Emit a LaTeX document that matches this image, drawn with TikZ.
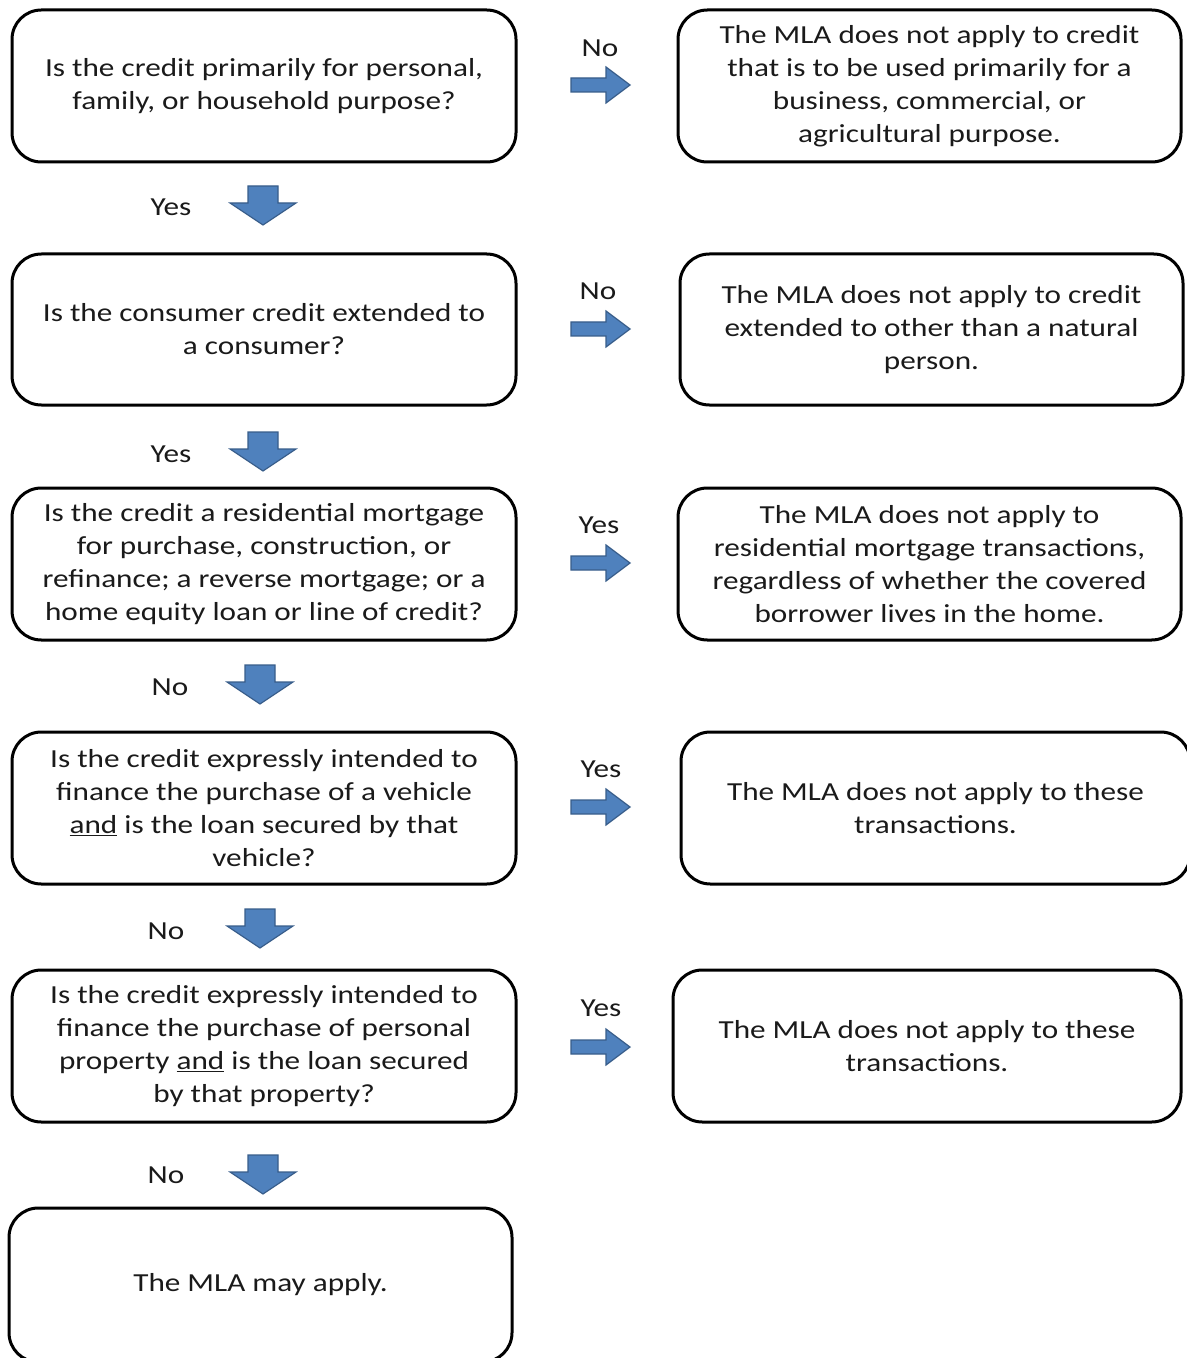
\documentclass[tikz,border=0pt]{standalone}
\usepackage{fontspec}
\setmainfont{Carlito}[FakeStretch=1.2]
\definecolor{arrowblue}{HTML}{4F81BD}
\definecolor{arrowedge}{HTML}{385D8A}
\definecolor{txt}{HTML}{1A1A1A}
\tikzset{
  box/.style={draw=black, line width=2.25pt, rounded corners=22pt, align=center,
    font=\fontsize{19.5}{24.75}\selectfont, text=txt, inner sep=0pt},
  lbl/.style={font=\fontsize{19.5}{24.75}\selectfont, text=txt, inner sep=0pt},
  barrow/.style={fill=arrowblue, draw=arrowedge, line width=0.9pt, line join=miter},
}
\newcommand\harrow[1]{\draw[barrow] ([shift={(0,-7)}]#1) -- ([shift={(35,-7)}]#1) -- ([shift={(35,-18)}]#1) -- ([shift={(59,0)}]#1) -- ([shift={(35,18)}]#1) -- ([shift={(35,7)}]#1) -- ([shift={(0,7)}]#1) -- cycle;}
\newcommand\varrow[1]{\draw[barrow] ([shift={(-15,0)}]#1) -- ([shift={(15,0)}]#1) -- ([shift={(15,17)}]#1) -- ([shift={(33,17)}]#1) -- ([shift={(0,39)}]#1) -- ([shift={(-33,17)}]#1) -- ([shift={(-15,17)}]#1) -- cycle;}
\begin{document}
\begin{tikzpicture}[x=0.75pt, y=-0.75pt]
\useasboundingbox (0,0) rectangle (1186,1358);
% left column
\node[box, minimum width=378pt, minimum height=114pt] (q1) at (264,86)
  {Is the credit primarily for personal,\\ family, or household purpose?};
\node[box, minimum width=378pt, minimum height=113.25pt] (q2) at (264,329.5)
  {Is the consumer credit extended to\\ a consumer?};
\node[box, minimum width=378pt, minimum height=114pt] (q3) at (264,564)
  {Is the credit a residential mortgage\\ for purchase, construction, or\\ refinance; a reverse mortgage; or a\\ home equity loan or line of credit?};
\node[box, minimum width=378pt, minimum height=114pt] (q4) at (264,808)
  {Is the credit expressly intended to\\ finance the purchase of a vehicle\\ \underline{and} is the loan secured by that\\ vehicle?};
\node[box, minimum width=378pt, minimum height=114pt] (q5) at (264,1046)
  {Is the credit expressly intended to\\ finance the purchase of personal\\ property \underline{and} is the loan secured\\ by that property?};
\node[box, minimum width=377.25pt, minimum height=115.5pt] (q6) at (260.5,1285)
  {The MLA may apply.};
% right column
\node[box, minimum width=377.25pt, minimum height=114pt] (r1) at (929.5,86)
  {The MLA does not apply to credit\\ that is to be used primarily for a\\ business, commercial, or\\ agricultural purpose.};
\node[box, minimum width=377.25pt, minimum height=113.25pt] (r2) at (931.5,329.5)
  {The MLA does not apply to credit\\ extended to other than a natural\\ person.};
\node[box, minimum width=377.25pt, minimum height=114pt] (r3) at (929.5,564)
  {The MLA does not apply to\\ residential mortgage transactions,\\ regardless of whether the covered\\ borrower lives in the home.};
\node[box, minimum width=381.75pt, minimum height=114pt] (r4) at (935.5,808)
  {The MLA does not apply to these\\ transactions.};
\node[box, minimum width=381pt, minimum height=114pt] (r5) at (927,1046)
  {The MLA does not apply to these\\ transactions.};
% horizontal arrows
\coordinate (h1) at (571,85);
\coordinate (h2) at (571,329);
\coordinate (h3) at (571,563);
\coordinate (h4) at (571,807);
\coordinate (h5) at (571,1047);
\harrow{h1} \harrow{h2} \harrow{h3} \harrow{h4} \harrow{h5}
\node[lbl] (lh1) at (600,48) {No};
\node[lbl] (lh2) at (598,291) {No};
\node[lbl] (lh3) at (599,525) {Yes};
\node[lbl] (lh4) at (601,769) {Yes};
\node[lbl] (lh5) at (601,1008) {Yes};
% vertical arrows
\coordinate (v1) at (263,186);
\coordinate (v2) at (263,432);
\coordinate (v3) at (260,665);
\coordinate (v4) at (260,909);
\coordinate (v5) at (263,1155);
\varrow{v1} \varrow{v2} \varrow{v3} \varrow{v4} \varrow{v5}
\node[lbl] (lv1) at (171,207) {Yes};
\node[lbl] (lv2) at (171,454) {Yes};
\node[lbl] (lv3) at (170,687) {No};
\node[lbl] (lv4) at (166,931) {No};
\node[lbl] (lv5) at (166,1175) {No};
\end{tikzpicture}
\end{document}
